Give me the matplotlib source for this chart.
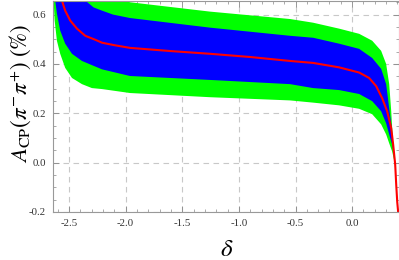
import numpy as np
import matplotlib.pyplot as plt
from matplotlib.ticker import MultipleLocator, FormatStrFormatter

plt.rcParams['font.family'] = 'serif'
plt.rcParams['font.serif'] = ['Liberation Serif', 'DejaVu Serif']
plt.rcParams['mathtext.fontset'] = 'stix'

# central value (red)
delta_c = [-2.580, -2.562, -2.533, -2.489, -2.429, -2.356, -2.268, -2.208, -2.100,
           -1.961, -1.600, -1.254, -0.900, -0.548, -0.344, -0.115, 0.062, 0.150,
           0.212, 0.265, 0.309, 0.345, 0.362, 0.380, 0.389, 0.398, 0.406]
acp_c = [0.740, 0.657, 0.616, 0.576, 0.543, 0.514, 0.498, 0.486, 0.476,
         0.465, 0.452, 0.441, 0.428, 0.412, 0.404, 0.386, 0.365, 0.343,
         0.310, 0.261, 0.208, 0.139, 0.073, -0.008, -0.090, -0.160, -0.200]

# inner band (blue)
delta_b_up = [-2.400, -2.356, -2.282, -2.208, -2.111, -1.961, -1.254, -0.548, -0.344,
              -0.115, 0.062, 0.177, 0.256, 0.300, 0.327, 0.345, 0.362, 0.380,
              0.389, 0.398, 0.406]
acp_b_up = [0.700, 0.657, 0.629, 0.616, 0.600, 0.586, 0.547, 0.514, 0.506,
            0.482, 0.461, 0.424, 0.380, 0.318, 0.220, 0.155, 0.078, -0.006,
            -0.088, -0.159, -0.200]
delta_b_lo = [-2.630, -2.621, -2.606, -2.577, -2.533, -2.473, -2.385, -2.297, -2.208,
              -1.961, -1.254, -0.548, -0.344, -0.115, 0.062, 0.177, 0.256, 0.300,
              0.327, 0.353, 0.370, 0.380, 0.389, 0.398, 0.406]
acp_b_lo = [0.720, 0.657, 0.604, 0.535, 0.482, 0.441, 0.412, 0.395, 0.378,
            0.351, 0.335, 0.318, 0.302, 0.294, 0.278, 0.249, 0.208, 0.159,
            0.114, 0.073, 0.030, -0.010, -0.092, -0.161, -0.200]

# outer band (green)
delta_g_up = [-2.100, -2.005, -1.961, -1.254, -0.548, -0.344, -0.115, 0.062, 0.177,
              0.256, 0.300, 0.327, 0.345, 0.358, 0.370, 0.380, 0.389, 0.398, 0.406]
acp_g_up = [0.700, 0.657, 0.650, 0.612, 0.582, 0.567, 0.543, 0.522, 0.494,
            0.453, 0.400, 0.318, 0.208, 0.100, 0.040, -0.005, -0.087, -0.158, -0.200]
delta_g_lo = [-2.645, -2.635, -2.626, -2.606, -2.577, -2.533, -2.473, -2.385, -2.297,
              -2.208, -1.961, -1.254, -0.548, -0.344, -0.115, 0.062, 0.177, 0.256,
              0.300, 0.327, 0.353, 0.375, 0.389, 0.398, 0.406]
acp_g_lo = [0.720, 0.657, 0.576, 0.494, 0.441, 0.384, 0.343, 0.318, 0.302,
            0.298, 0.282, 0.265, 0.252, 0.243, 0.232, 0.218, 0.196, 0.155,
            0.114, 0.078, 0.045, 0.000, -0.094, -0.162, -0.200]

fig = plt.figure(figsize=(3.99, 2.60), dpi=100)
ax = fig.add_axes([0.133, 0.185, 0.866, 0.813])

ax.fill(np.concatenate([delta_g_up, delta_g_lo[::-1]]),
        np.concatenate([acp_g_up, acp_g_lo[::-1]]), color='#00ff00', lw=0, zorder=2)
ax.fill(np.concatenate([delta_b_up, delta_b_lo[::-1]]),
        np.concatenate([acp_b_up, acp_b_lo[::-1]]), color='#0000ff', lw=0, zorder=3)
ax.plot(delta_c, acp_c, color='#ff0000', lw=1.5, zorder=4)

ax.set_xlim(-2.64, 0.41)
ax.set_ylim(-0.2, 0.657)

ax.xaxis.set_major_locator(MultipleLocator(0.5))
ax.xaxis.set_minor_locator(MultipleLocator(0.1))
ax.yaxis.set_major_locator(MultipleLocator(0.2))
ax.yaxis.set_minor_locator(MultipleLocator(0.05))
ax.xaxis.set_major_formatter(FormatStrFormatter('%.1f'))
ax.yaxis.set_major_formatter(FormatStrFormatter('%.1f'))

ax.grid(True, which='major', color='#c8c8c8', ls=(0, (5, 4)), lw=0.8, zorder=1)
ax.tick_params(which='both', direction='in', top=True, right=True, color='#888888',
               labelsize=7.8, labelcolor='#333333')
ax.tick_params(which='major', length=4, width=0.6)
ax.tick_params(which='minor', length=2, width=0.5)
ax.tick_params(axis='x', pad=5)
ax.tick_params(axis='y', pad=5)
for sp in ax.spines.values():
    sp.set_color('#999999')
    sp.set_linewidth(0.8)
    sp.set_zorder(5)

fig.text(0.569, 0.038, r'$\delta$', fontsize=18, ha='center', va='center')
fig.text(0.052, 0.64, r'$A_{\mathrm{CP}}(\pi^{-}\pi^{+})\ (\%)$', fontsize=16.5,
         rotation=90, ha='center', va='center')

fig.savefig('out.png', dpi=100)
